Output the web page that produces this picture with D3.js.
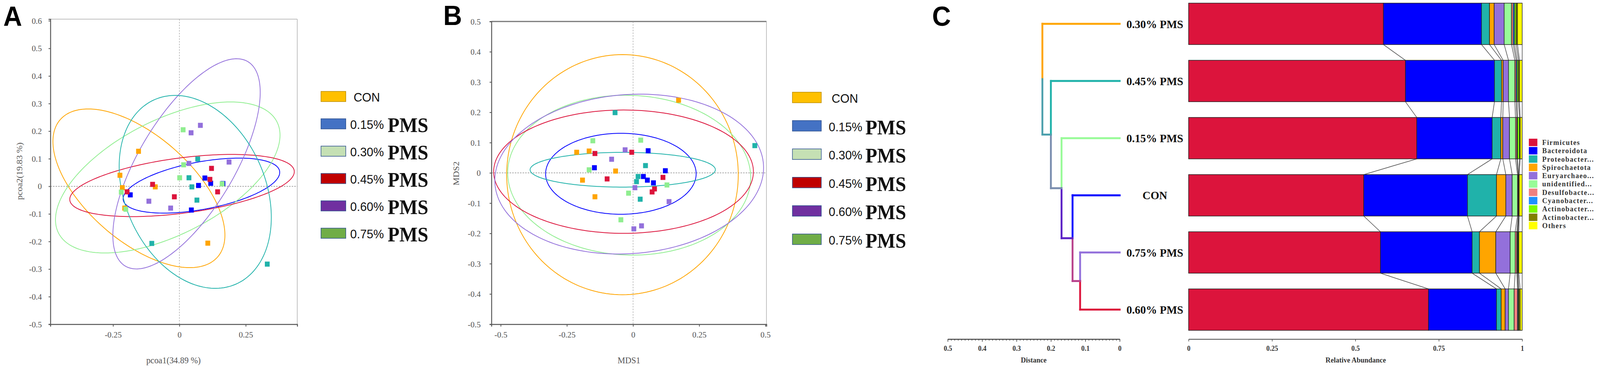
<!DOCTYPE html>
<html>
<head>
<meta charset="utf-8">
<script src="https://cdn.jsdelivr.net/npm/d3@7"></script>
<style>
  html, body { margin: 0; padding: 0; background: #fff; overflow: hidden; }
  svg { display: block; }
</style>
</head>
<body>
<script>
// ---- data ----
const groups = ["CON", "0.15%", "0.30%", "0.45%", "0.60%", "0.75%"];
const groupColors = ["#FFA500", "#0000FF", "#90EE90", "#DC143C", "#9370DB", "#20B2AA"];
const legendColors = ["#FFC000", "#4472C4", "#C5E0B4", "#C00000", "#7030A0", "#70AD47"];

// PCoA points, one list of [pcoa1, pcoa2] per group
const pcoaPoints = [
  [[-0.154, 0.127], [-0.224, 0.040], [-0.215, -0.005], [-0.091, -0.002], [-0.206, -0.079], [0.107, -0.206]],
  [[-0.185, -0.031], [0.096, 0.030], [0.118, 0.011], [0.072, 0.003], [0.045, -0.086], [0.164, 0.010]],
  [[0.014, 0.205], [0.016, 0.078], [0.001, 0.031], [-0.219, -0.021], [-0.202, -0.083], [0.161, 0.009]],
  [[0.121, 0.065], [0.115, 0.025], [-0.101, 0.007], [-0.197, -0.020], [-0.019, -0.038], [0.144, -0.020]],
  [[0.079, 0.221], [0.044, 0.194], [0.036, 0.083], [0.187, 0.088], [-0.115, -0.054], [-0.033, -0.079]],
  [[0.069, 0.099], [0.036, 0.031], [0.047, -0.002], [0.066, -0.050], [-0.104, -0.207], [0.331, -0.282]]
];
// ellipses: [centre x, centre y, half width, half height, correlation]
const pcoaEllipses = [
  [-0.1525, -0.0072, 0.324, 0.2876, -0.59],
  [0.083, 0.0026, 0.295, 0.0997, 0.48],
  [-0.0439, 0.0321, 0.423, 0.2737, 0.56],
  [0.0099, 0.0029, 0.423, 0.1127, 0.445],
  [0.0269, 0.0815, 0.2776, 0.381, 0.68],
  [0.0597, -0.0202, 0.2866, 0.3497, -0.264]
];
const pcoaYTicks = [0.6, 0.5, 0.4, 0.3, 0.2, 0.1, 0, -0.1, -0.2, -0.3, -0.4, -0.5];
const pcoaXTicks = [-0.25, 0, 0.25];

// NMDS points
const nmdsPoints = [
  [[0.172, 0.240], [-0.213, 0.068], [-0.166, 0.072], [-0.066, 0.006], [-0.191, -0.024], [-0.144, -0.079]],
  [[0.057, 0.073], [-0.146, 0.017], [0.122, 0.007], [0.039, -0.012], [0.054, -0.024], [0.077, -0.033]],
  [[-0.152, 0.106], [0.029, 0.108], [-0.166, 0.010], [0.128, -0.040], [-0.017, -0.067], [-0.046, -0.155]],
  [[-0.144, 0.064], [-0.005, 0.068], [-0.098, -0.020], [0.113, -0.015], [0.081, -0.053], [0.072, -0.063]],
  [[-0.030, 0.076], [-0.081, 0.045], [0.007, -0.049], [0.136, -0.095], [0.032, -0.175], [0.003, -0.185]],
  [[-0.068, 0.199], [0.460, 0.090], [0.047, 0.024], [0.019, -0.012], [0.013, -0.029], [0.027, -0.087]]
];
const nmdsEllipses = [
  [-0.040, -0.006, 0.4375, 0.3965, 0],
  [-0.046, -0.003, 0.2844, 0.1337, 0],
  [-0.0146, -0.0076, 0.459, 0.264, -0.03],
  [-0.036, 0.004, 0.4907, 0.2037, 0],
  [-0.0146, -0.004, 0.5077, 0.264, 0.08],
  [-0.039, 0.0104, 0.350, 0.0574, 0]
];
const nmdsYTicks = [0.5, 0.4, 0.3, 0.2, 0.1, 0, -0.1, -0.2, -0.3, -0.4, -0.5];
const nmdsXTicks = [-0.5, -0.25, 0, 0.25, 0.5];

// relative abundance (panel C)
const samples = ["0.30% PMS", "0.45% PMS", "0.15% PMS", "CON", "0.75% PMS", "0.60% PMS"];
const phyla = ["Firmicutes", "Bacteroidota", "Proteobacter...", "Spirochaetota", "Euryarchaeo...",
  "unidentified...", "Desulfobacte...", "Cyanobacter...", "Actinobacter...", "Actinobacter...", "Others"];
const phylaColors = ["#DC143C", "#0000FF", "#20B2AA", "#FFA500", "#9370DB", "#98FB98",
  "#F08080", "#1E90FF", "#7CFC00", "#808000", "#FFFF00"];
const abundance = [
  [0.584, 0.294, 0.024, 0.014, 0.030, 0.022, 0.005, 0.004, 0.005, 0.004, 0.014],
  [0.650, 0.267, 0.021, 0.005, 0.016, 0.019, 0.004, 0.003, 0.004, 0.003, 0.008],
  [0.684, 0.226, 0.026, 0.006, 0.020, 0.018, 0.004, 0.002, 0.006, 0.002, 0.006],
  [0.525, 0.311, 0.087, 0.028, 0.019, 0.016, 0.002, 0.001, 0.001, 0.001, 0.009],
  [0.575, 0.275, 0.022, 0.049, 0.043, 0.015, 0.005, 0.002, 0.002, 0.002, 0.010],
  [0.719, 0.204, 0.014, 0.012, 0.010, 0.017, 0.010, 0.002, 0.002, 0.004, 0.006]
];
const abundTicks = [0, 0.25, 0.5, 0.75, 1];

// clustering tree: [node, child1, child2, distance]
const leafColors = ["#FFA500", "#20B2AA", "#98FB98", "#0000FF", "#9370DB", "#DC143C"];
const merges = [
  ["N5", "0.75% PMS", "0.60% PMS", 0.115],
  ["N4", "CON", "N5", 0.137],
  ["N3", "0.15% PMS", "N4", 0.169],
  ["N2", "0.45% PMS", "N3", 0.200],
  ["N1", "0.30% PMS", "N2", 0.2247]
];
const distTicks = [0.5, 0.4, 0.3, 0.2, 0.1, 0];

// ---- drawing ----
// the window may be narrower than the figure, so the figure is fitted to it
const svg = d3.select("body").append("svg")
  .attr("width", window.innerWidth || 4317).attr("height", window.innerHeight || 942)
  .attr("viewBox", "0 0 4317 942").attr("preserveAspectRatio", "none");
const serif = "'Liberation Serif', 'DejaVu Serif', serif";
const sans = "'Liberation Sans', Arial, sans-serif";
const fmt = d => String(+d.toFixed(2));

function ellipsePath(x, y, e) {
  const [cx, cy, w, h, r] = e;
  const s = Math.sqrt(1 - r * r);
  const pts = d3.range(0, 361, 2).map(a => {
    const t = a * Math.PI / 180;
    return [x(cx + w * Math.cos(t)), y(cy + h * (r * Math.cos(t) + s * Math.sin(t)))];
  });
  return d3.line()(pts) + "Z";
}

function ordination(o) {
  const g = svg.append("g");
  const x = d3.scaleLinear().domain(o.xDomain).range(o.xRange);
  const y = d3.scaleLinear().domain(o.yDomain).range(o.yRange);
  const [x0, x1] = o.xRange, [y0, y1] = o.yRange;

  // frame
  g.append("line").attr("x1", x0).attr("x2", x1).attr("y1", y1).attr("y2", y1)
    .attr("stroke", o.topStroke).attr("stroke-width", o.topWidth);
  g.append("line").attr("x1", x1).attr("x2", x1).attr("y1", y1).attr("y2", y0)
    .attr("stroke", "#aaa").attr("stroke-width", 1.5);
  // zero lines
  g.append("line").attr("x1", x0).attr("x2", x1).attr("y1", y(0)).attr("y2", y(0))
    .attr("stroke", "#888").attr("stroke-width", 1.5).attr("stroke-dasharray", "4,3");
  g.append("line").attr("x1", x(0)).attr("x2", x(0)).attr("y1", y1).attr("y2", y0)
    .attr("stroke", "#999").attr("stroke-width", 1.2).attr("stroke-dasharray", "4,3");

  // axes
  const ax = g.append("g").attr("transform", `translate(0,${y0})`)
    .call(d3.axisBottom(x).tickValues(o.xTicks).tickFormat(fmt).tickSize(6).tickPadding(12));
  const ay = g.append("g").attr("transform", `translate(${x0},0)`)
    .call(d3.axisLeft(y).tickValues(o.yTicks).tickFormat(fmt).tickSize(5).tickPadding(o.yPad));
  [ax, ay].forEach(a => {
    a.select(".domain").attr("stroke", "#555").attr("stroke-width", 2.5);
    a.selectAll(".tick line").attr("stroke", "#555").attr("stroke-width", 2);
    a.selectAll("text").attr("font-family", serif).attr("font-size", 22).attr("fill", "#555");
  });

  g.append("text").attr("x", o.xLabelPos[0]).attr("y", o.xLabelPos[1]).attr("text-anchor", "middle")
    .attr("font-family", serif).attr("font-size", 23).attr("fill", "#555").text(o.xLabel);
  g.append("text").attr("transform", `translate(${o.yLabelPos[0]},${o.yLabelPos[1]}) rotate(-90)`)
    .attr("text-anchor", "middle").attr("dy", "0.35em")
    .attr("font-family", serif).attr("font-size", 23).attr("fill", "#555").text(o.yLabel);

  // ellipses then samples
  g.selectAll(".ell").data(o.ellipses).join("path")
    .attr("d", e => ellipsePath(x, y, e))
    .attr("fill", "none").attr("stroke", (e, i) => groupColors[i]).attr("stroke-width", 2);
  o.points.forEach((pts, i) => {
    g.selectAll(null).data(pts).join("rect")
      .attr("x", d => x(d[0]) - 6.5).attr("y", d => y(d[1]) - 6.5)
      .attr("width", 13).attr("height", 13).attr("fill", groupColors[i]);
  });

  // legend
  const lg = g.append("g");
  groups.forEach((name, i) => {
    const top = o.legTop + i * o.legStep;
    lg.append("rect").attr("x", o.legX).attr("y", top).attr("width", o.legW).attr("height", o.legH)
      .attr("fill", legendColors[i]).attr("stroke", i === 0 ? "#BC8C00" : "#2F528F").attr("stroke-width", 1.5);
    if (name === "CON") {
      lg.append("text").attr("x", o.conX).attr("y", top + o.legH)
        .attr("font-family", sans).attr("font-size", 32).attr("fill", "#111").text(name);
    } else {
      lg.append("text").attr("x", o.numX).attr("y", top + o.legH)
        .attr("font-family", sans).attr("font-size", 32).attr("fill", "#111").text(name);
      lg.append("text").attr("x", o.pmsX).attr("y", top + o.legH + 8)
        .attr("font-family", serif).attr("font-weight", "bold").attr("font-size", 52)
        .attr("fill", "#111").text("PMS");
    }
  });
}

ordination({
  xDomain: [-0.486, 0.444], xRange: [136, 802],
  yDomain: [-0.5, 0.606], yRange: [830, 49],
  xTicks: pcoaXTicks, yTicks: pcoaYTicks, yPad: 18,
  topStroke: "#aaa", topWidth: 1.5,
  xLabel: "pcoa1(34.89 %)", xLabelPos: [468, 930],
  yLabel: "pcoa2(19.83 %)", yLabelPos: [52, 438],
  points: pcoaPoints, ellipses: pcoaEllipses,
  legX: 866, legW: 67, legH: 26, legTop: 234, legStep: 70,
  conX: 954, numX: 945, pmsX: 1046
});

ordination({
  xDomain: [-0.535, 0.504], xRange: [1326, 2068],
  yDomain: [-0.5, 0.5], yRange: [830, 55],
  xTicks: nmdsXTicks, yTicks: nmdsYTicks, yPad: 24,
  topStroke: "#777", topWidth: 3,
  xLabel: "MDS1", xLabelPos: [1697, 930],
  yLabel: "MDS2", yLabelPos: [1230, 444],
  points: nmdsPoints, ellipses: nmdsEllipses,
  legX: 2138, legW: 78, legH: 27, legTop: 236, legStep: 72.6,
  conX: 2244, numX: 2236, pmsX: 2335
});

// ---- panel C ----
const gc = svg.append("g");
const yb = d3.scaleBand().domain(samples).range([8, 845.6]).paddingInner(0.275);
const xb = d3.scaleLinear().domain([0, 1]).range([3207, 4107]);
const xd = d3.scaleLinear().domain([0.5, 0]).range([2557, 3021]);

// dendrogram
const nodes = {};
samples.forEach((s, i) => nodes[s] = { y: yb(s) + yb.bandwidth() / 2, d: 0, c: leafColors[i] });
merges.forEach(([id, a, b, dist]) => {
  const na = nodes[a], nb = nodes[b];
  nodes[id] = { y: (na.y + nb.y) / 2, d: dist, c: d3.interpolateRgb(na.c, nb.c)(0.5) };
});
const tree = gc.append("g").attr("fill", "none").attr("stroke-width", 5).attr("stroke-linecap", "square");
merges.forEach(([id, a, b, dist]) => {
  const n = nodes[id];
  [a, b].forEach(k => {
    const ch = nodes[k];
    tree.append("line").attr("x1", xd(dist)).attr("x2", xd(dist)).attr("y1", n.y).attr("y2", ch.y)
      .attr("stroke", ch.c);
    tree.append("line").attr("x1", xd(dist)).attr("x2", xd(ch.d)).attr("y1", ch.y).attr("y2", ch.y)
      .attr("stroke", ch.c);
  });
});

gc.selectAll(".leaf").data(samples).join("text")
  .attr("x", 3116).attr("y", s => yb(s) + yb.bandwidth() / 2).attr("dy", "0.35em")
  .attr("text-anchor", "middle").attr("font-family", serif).attr("font-weight", "bold")
  .attr("font-size", 30).attr("fill", "#111").text(s => s);

// stacked bars
const cums = abundance.map(row => {
  let c = 0;
  return row.map(v => { const s = c; c += v; return [s, c]; });
});
samples.forEach((s, i) => {
  gc.append("g").selectAll("rect").data(cums[i]).join("rect")
    .attr("x", d => xb(d[0])).attr("width", d => xb(d[1]) - xb(d[0]))
    .attr("y", yb(s)).attr("height", yb.bandwidth())
    .attr("fill", (d, k) => phylaColors[k]).attr("stroke", "#222").attr("stroke-width", 1.5);
});
// links between neighbouring bars
for (let i = 0; i < samples.length - 1; i++) {
  const yTop = yb(samples[i]) + yb.bandwidth(), yBot = yb(samples[i + 1]);
  cums[i].forEach((d, k) => {
    gc.append("line").attr("x1", xb(d[1])).attr("x2", xb(cums[i + 1][k][1]))
      .attr("y1", yTop).attr("y2", yBot).attr("stroke", "#333").attr("stroke-width", 1.6)
      .attr("opacity", 0.85);
  });
}

// legend
phyla.forEach((p, k) => {
  const top = 355 + k * 21.3;
  gc.append("rect").attr("x", 4125).attr("y", top).attr("width", 23).attr("height", 19)
    .attr("fill", phylaColors[k]);
  gc.append("text").attr("x", 4161).attr("y", top + 16)
    .attr("font-family", serif).attr("font-weight", "bold").attr("font-size", 19)
    .attr("letter-spacing", 1.5).attr("fill", "#333").text(p);
});

// bottom axes
function styleAxis(a) {
  a.select(".domain").attr("stroke", "#444").attr("stroke-width", 2);
  a.selectAll(".tick line").attr("stroke", "#444").attr("stroke-width", 1.5);
  a.selectAll("text").attr("font-family", serif).attr("font-weight", "bold")
    .attr("font-size", 18).attr("fill", "#333");
}
gc.append("g").attr("transform", "translate(0,868)")
  .call(d3.axisBottom(xd).tickValues(d3.range(0, 0.5001, 0.01)).tickFormat("").tickSize(4).tickSizeOuter(0))
  .call(styleAxis);
gc.append("g").attr("transform", "translate(0,868)")
  .call(d3.axisBottom(xd).tickValues(distTicks).tickFormat(fmt).tickSize(7).tickSizeOuter(0).tickPadding(10))
  .call(styleAxis);
gc.append("g").attr("transform", "translate(0,868)")
  .call(d3.axisBottom(xb).tickValues(abundTicks).tickFormat(fmt).tickSize(6).tickSizeOuter(0).tickPadding(11))
  .call(styleAxis);

gc.append("text").attr("x", 2789).attr("y", 928).attr("text-anchor", "middle")
  .attr("font-family", serif).attr("font-weight", "bold").attr("font-size", 19).attr("fill", "#333").text("Distance");
gc.append("text").attr("x", 3658).attr("y", 928).attr("text-anchor", "middle")
  .attr("font-family", serif).attr("font-weight", "bold").attr("font-size", 19).attr("fill", "#333").text("Relative Abundance");

// panel letters
[["A", 9, 66], ["B", 1196, 64], ["C", 2515, 66]].forEach(([t, px, py]) => {
  svg.append("text").attr("x", px).attr("y", py).attr("font-family", sans).attr("font-weight", "bold")
    .attr("font-size", 70).attr("fill", "#000").text(t);
});
</script>
</body>
</html>
